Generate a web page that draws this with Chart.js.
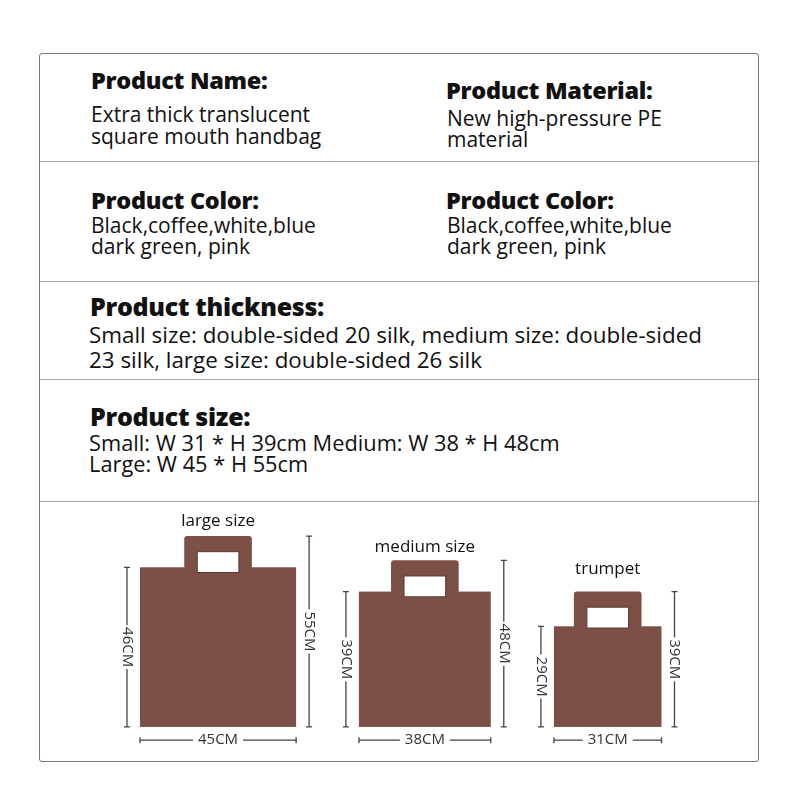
<!DOCTYPE html>
<html><head><meta charset="utf-8">
<script src="https://cdn.jsdelivr.net/npm/chart.js@4.4.0/dist/chart.umd.min.js"></script>
<style>
body{margin:0;width:800px;height:800px;background:#fff;font-family:"Open Sans","Noto Sans",sans-serif;color:#111;position:relative;overflow:hidden}
#box{position:absolute;left:39px;top:53px;width:718px;height:707px;border:1.5px solid #777;border-radius:3px}
.hr{position:absolute;left:40px;width:718px;height:0;border-top:1.5px solid #aaa}
.t{position:absolute;font-weight:800;font-size:23.5px;letter-spacing:-0.3px;white-space:nowrap}
.b{position:absolute;font-size:21px;line-height:22px;white-space:nowrap}
#cw{position:absolute;left:39px;top:501px;width:720px;height:261px}
</style></head><body>
<div id="box"></div>
<div class="hr" style="top:161px"></div>
<div class="hr" style="top:281px"></div>
<div class="hr" style="top:379px"></div>
<div class="hr" style="top:501px"></div>
<div class="t" style="left:91px;top:64px">Product Name:</div>
<div class="b" style="left:91px;top:103px">Extra thick translucent<br>square mouth handbag</div>
<div class="t" style="left:446px;top:74px">Product Material:</div>
<div class="b" style="left:447px;top:108px;line-height:21px">New high-pressure PE<br>material</div>
<div class="t" style="left:91px;top:184px">Product Color:</div>
<div class="b" style="left:91px;top:215px;line-height:21px">Black,coffee,white,blue<br>dark green, pink</div>
<div class="t" style="left:446px;top:184px">Product Color:</div>
<div class="b" style="left:447px;top:215px;line-height:21px">Black,coffee,white,blue<br>dark green, pink</div>
<div class="t" style="left:90px;top:289px;font-size:25px">Product thickness:</div>
<div class="b" style="left:89px;top:322px;font-size:22.4px;line-height:25px">Small size: double-sided 20 silk, medium size: double-sided<br>23 silk, large size: double-sided 26 silk</div>
<div class="t" style="left:90px;top:399px;font-size:25px">Product size:</div>
<div class="b" style="left:89px;top:432px;font-size:21.8px;line-height:21px">Small: W 31 * H 39cm Medium: W 38 * H 48cm<br>Large: W 45 * H 55cm</div>
<div id="cw"><canvas id="c"></canvas></div>
<script>
const bagNames=["large size","medium size","trumpet"];
const widthsCm=[45,38,31];
const bodyHeightsCm=[46,39,29];
const totalHeightsCm=[55,48,39];
const handleWidthCm=19.5;
const layout={left:[29.1,92.2,148.4],labelY:[58,50.5,44]};
const bagPlugin={id:'bags',afterDatasetsDraw(ch){
 const c=ch.ctx,x=ch.scales.x,y=ch.scales.y;
 c.save();
 bagNames.forEach((n,i)=>{
  const l=layout.left[i],w=widthsCm[i],bh=bodyHeightsCm[i],th=totalHeightsCm[i];
  const X=v=>x.getPixelForValue(v),Y=v=>y.getPixelForValue(v);
  const cx=l+w/2;
  c.fillStyle='#7d5047';
  c.fillRect(X(l),Y(bh),X(l+w)-X(l),Y(0)-Y(bh));
  c.beginPath();c.roundRect(X(cx-handleWidthCm/2),Y(th),X(cx+handleWidthCm/2)-X(cx-handleWidthCm/2),Y(bh)-Y(th)+2,3);c.fill();
  c.fillStyle='#fff';c.strokeStyle='#5a3a33';c.lineWidth=1;
  const hx=X(cx-6),hy=Y(th-4.5),hw=X(cx+6)-X(cx-6),hh=Y(th-10.5)-Y(th-4.5);
  c.fillRect(hx,hy,hw,hh);c.strokeRect(hx,hy,hw,hh);
  c.strokeStyle='#444';c.fillStyle='#333';c.lineWidth=1.3;
  const vline=(px,top,lab)=>{
   const yt=Y(top),yb=Y(0),ym=(yt+yb)/2;
   c.beginPath();c.moveTo(px,yt);c.lineTo(px,ym-22);c.moveTo(px,ym+22);c.lineTo(px,yb);
   c.moveTo(px-3,yt);c.lineTo(px+3,yt);c.moveTo(px-3,yb);c.lineTo(px+3,yb);c.stroke();
   c.save();c.translate(px,ym);c.rotate(Math.PI/2);c.font='15px "Open Sans"';c.textAlign='center';c.textBaseline='middle';c.fillText(lab,0,0);c.restore();
  };
  vline(X(l)-13,bh,bh+'CM');
  vline(X(l+w)+13,th,th+'CM');
  const yy=Y(-3.8),xl=X(l),xr=X(l+w),xm=(xl+xr)/2;
  c.beginPath();c.moveTo(xl,yy);c.lineTo(xm-25,yy);c.moveTo(xm+25,yy);c.lineTo(xr,yy);
  c.moveTo(xl,yy-3);c.lineTo(xl,yy+3);c.moveTo(xr,yy-3);c.lineTo(xr,yy+3);c.stroke();
  c.font='15px "Open Sans"';c.textAlign='center';c.textBaseline='middle';c.fillText(w+'CM',xm,yy);
  c.fillStyle='#111';c.font='17px "Open Sans"';c.textBaseline='alphabetic';c.fillText(n,X(cx),Y(layout.labelY[i]));
 });
 c.restore();
}};
new Chart(document.getElementById('c'),{type:'scatter',
 data:{datasets:[{data:widthsCm.map((w,i)=>({x:layout.left[i],y:0})),pointRadius:0}]},
 options:{responsive:true,maintainAspectRatio:false,animation:false,layout:{padding:0},
  plugins:{legend:{display:false},tooltip:{enabled:false}},
  scales:{x:{type:'linear',min:0,max:207.5,display:false},y:{type:'linear',min:-10.1,max:65.1,display:false}}},
 plugins:[bagPlugin]});
</script>
</body></html>
